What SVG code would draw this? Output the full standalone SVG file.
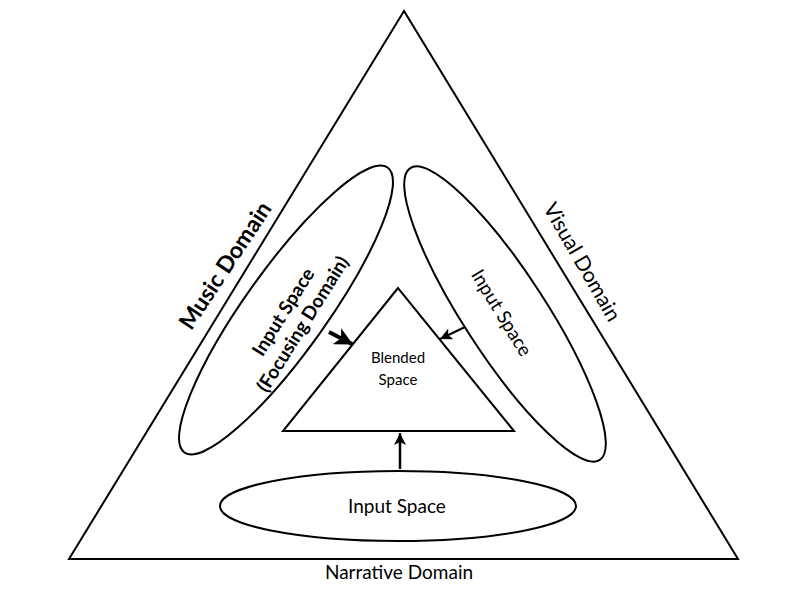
<svg xmlns="http://www.w3.org/2000/svg" width="800" height="600" viewBox="0 0 800 600">
<style>
.shape{fill:none;stroke:#000;stroke-width:2}
.t{font-family:Lato,"Open Sans","Liberation Sans",sans-serif;fill:#000;text-anchor:middle}
.b{font-weight:bold}
</style>
<defs>
<marker id="ahBig" viewBox="0 0 10 10" refX="10" refY="5" markerWidth="18" markerHeight="18" orient="auto" markerUnits="userSpaceOnUse"><path d="M0,0 L10,5 L0,10 L2.5,5 z" fill="#000"/></marker>
<marker id="ah" viewBox="0 0 10 10" refX="10" refY="5" markerWidth="13" markerHeight="12" orient="auto" markerUnits="userSpaceOnUse"><path d="M0,0 L10,5 L0,10 L2.5,5 z" fill="#000"/></marker>
</defs>
<rect width="800" height="600" fill="#fff"/>
<g id="outer-triangle">
<polygon class="shape" points="404,11 69,559 738,559"/>
<text class="t b" font-size="23" transform="translate(226,266) rotate(-56.5)" dy="7">Music Domain</text>
<text class="t" font-size="21" transform="translate(582,262) rotate(60)" dy="7">Visual Domain</text>
<text class="t" font-size="19" x="399" y="579">Narrative Domain</text>
</g>
<g id="input-left">
<ellipse class="shape" cx="286" cy="310" rx="175" ry="41" transform="rotate(-54.5 286 310)"/>
<text class="t b" font-size="19" transform="translate(293,318) rotate(-58)"><tspan x="0" y="-5">Input Space</tspan><tspan x="0" y="18">(Focusing Domain)</tspan></text>
</g>
<g id="input-right">
<ellipse class="shape" cx="505" cy="314" rx="174" ry="41" transform="rotate(57 505 314)"/>
<text class="t" font-size="19" transform="translate(501,313) rotate(58.6)" dy="6">Input Space</text>
</g>
<g id="input-bottom">
<ellipse class="shape" cx="398" cy="506" rx="178" ry="35"/>
<text class="t" font-size="19" x="397" y="513">Input Space</text>
</g>
<g id="blended">
<polygon class="shape" points="398,288 283,431 514,431"/>
<text class="t" font-size="15" x="398" y="363">Blended</text>
<text class="t" font-size="15" x="398" y="385">Space</text>
</g>
<g id="connectors">
<line x1="329" y1="332" x2="353" y2="344.5" stroke="#000" stroke-width="4" marker-end="url(#ahBig)"/>
<line x1="465" y1="327" x2="440" y2="339" stroke="#000" stroke-width="2" marker-end="url(#ah)"/>
<line x1="400" y1="469" x2="400" y2="433" stroke="#000" stroke-width="2.5" marker-end="url(#ah)"/>
</g>
</svg>
